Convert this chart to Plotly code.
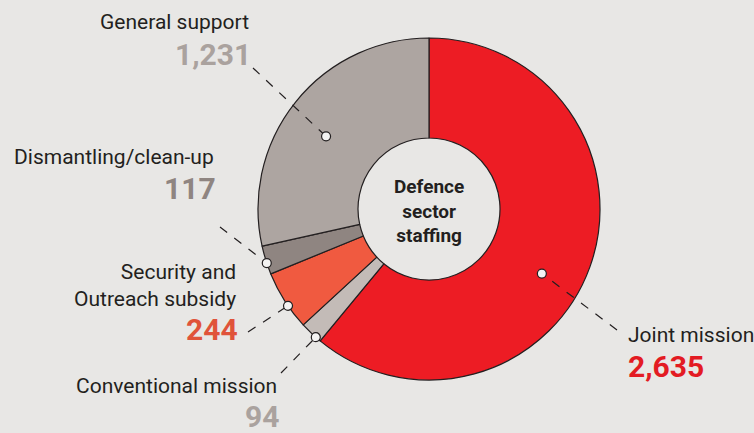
import math
import plotly.graph_objects as go

# ---- data ----
categories = ["Joint mission", "Conventional mission", "Security and<br>Outreach subsidy",
              "Dismantling/clean-up", "General support"]
values = [2635, 94, 244, 117, 1231]
value_labels = ["2,635", "94", "244", "117", "1,231"]

# ---- style ----
W, H = 754, 433
BG = "#e8e7e5"
slice_colors = ["#ed1c24", "#c3bbb7", "#f05a40", "#8f8581", "#ada5a1"]
number_colors = ["#e31b23", "#aaa29e", "#e0533a", "#8f8581", "#aaa29e"]
CX, CY, R_OUT, R_IN = 429, 209, 171, 71

# per-label layout: dot radius, dot angle offset (deg), line outer end (px),
# text anchor point (px), alignment, number offset below label (px)
label_layout = [
    dict(r=130, off=10, end=(617, 330), tx=626, ty=335, align="left", dn=31),
    dict(r=171, off=-2, end=(281, 373), tx=279, ty=386, align="right", dn=30),
    dict(r=171, off=-2, end=(248, 332), tx=238, ty=285, align="right", dn=44),
    dict(r=171, off=-1, end=(220, 227), tx=216, ty=157, align="right", dn=31),
    dict(r=126, off=-3.5, end=(253, 68), tx=251, ty=22, align="right", dn=32),
]


def px(x):
    return x / W


def py(y):
    return 1 - y / H


fig = go.Figure()
fig.add_trace(go.Pie(
    labels=categories, values=values, sort=False, direction="clockwise", rotation=0,
    hole=R_IN / R_OUT,
    marker=dict(colors=slice_colors, line=dict(color="#231f20", width=1.2)),
    textinfo="none", hoverinfo="label+value", showlegend=False,
    domain=dict(x=[px(CX - R_OUT), px(CX + R_OUT)], y=[py(CY + R_OUT), py(CY - R_OUT)]),
))

total = sum(values)
cum = 0
shapes = []
annotations = []
for i, v in enumerate(values):
    lay = label_layout[i]
    mid = (cum + v / 2) / total * 360 + lay["off"]
    cum += v
    dx = CX + lay["r"] * math.sin(math.radians(mid))
    dy = CY - lay["r"] * math.cos(math.radians(mid))
    ex, ey = lay["end"]
    shapes.append(dict(type="line", xref="paper", yref="paper",
                       x0=px(ex), y0=py(ey), x1=px(dx), y1=py(dy),
                       line=dict(color="#231f20", width=1.2, dash="dash"), layer="above"))
    rr = 4.5
    shapes.append(dict(type="circle", xref="paper", yref="paper",
                       x0=px(dx - rr), x1=px(dx + rr), y0=py(dy + rr), y1=py(dy - rr),
                       fillcolor="#f4f3f2", line=dict(color="#231f20", width=1.2), layer="above"))
    annotations.append(dict(
        x=px(lay["tx"]), y=py(lay["ty"]), xref="paper", yref="paper",
        text=categories[i], showarrow=False, align=lay["align"],
        xanchor=lay["align"], yanchor="middle",
        font=dict(family="Roboto", size=21, color="#231f20")))
    ny = lay["ty"] + lay["dn"]
    annotations.append(dict(
        x=px(lay["tx"] + (0 if lay["align"] == "left" else 2)), y=py(ny), xref="paper", yref="paper",
        text="<b>" + value_labels[i] + "</b>", showarrow=False,
        xanchor=lay["align"], yanchor="middle",
        font=dict(family="Roboto", size=30, color=number_colors[i])))

annotations.append(dict(
    x=px(CX), y=py(CY + 2), xref="paper", yref="paper",
    text="<b>Defence<br>sector<br>staffing</b>", showarrow=False,
    xanchor="center", yanchor="middle", align="center",
    font=dict(family="Roboto", size=19, color="#231f20")))

fig.update_layout(
    width=W, height=H, margin=dict(l=0, r=0, t=0, b=0),
    paper_bgcolor=BG, plot_bgcolor=BG,
    shapes=shapes, annotations=annotations, showlegend=False,
)
fig.write_html("out.html")
